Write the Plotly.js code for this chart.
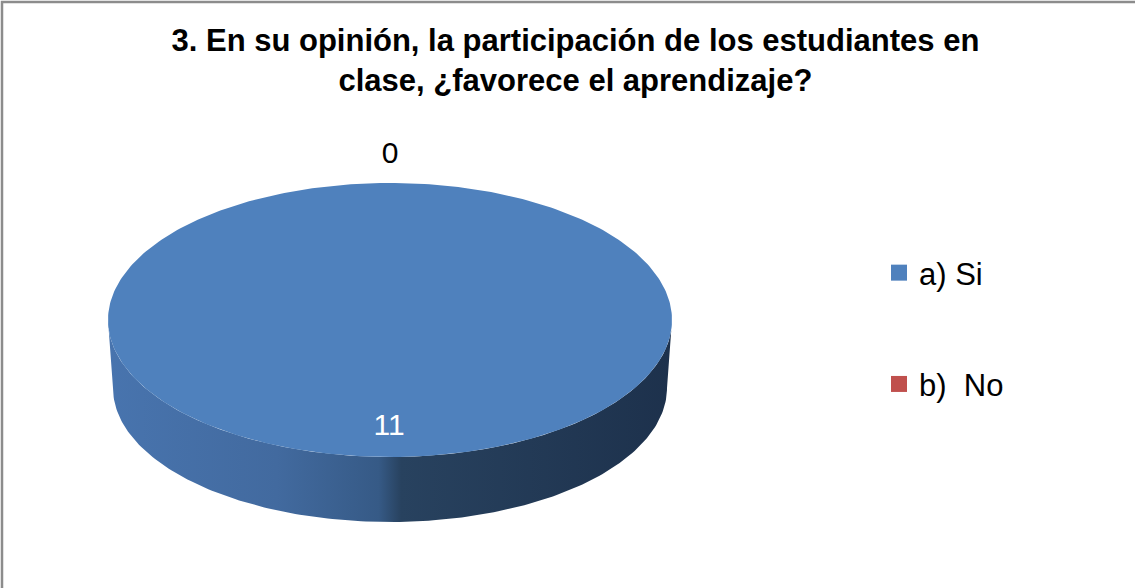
<!DOCTYPE html>
<html>
<head>
<meta charset="utf-8">
<script src="https://cdn.plot.ly/plotly-3.0.1.min.js"></script>
<style>
html,body{margin:0;padding:0;background:#fff;}
#chart{width:1135px;height:588px;}
</style>
</head>
<body>
<div id="chart"></div>
<script>
// ---- data ----
const categories = ['a) Si', 'b)  No'];
const values = [11, 0];
const sliceColors = ['#4f81bd', '#c0504d'];
const chartTitle = '3. En su opinión, la participación de los estudiantes en<br>clase, ¿favorece el aprendizaje?';

// ---- 3D pie geometry (pixel space) ----
const cx = 390, cy = 320, rx = 282, ry = 137;
const depth = 68, rxB = 277, ryB = 134;
const total = values.reduce((a, b) => a + b, 0);
const deg = Math.PI / 180;

function topPt(t) { return [cx + rx * Math.sin(t * deg), cy - ry * Math.cos(t * deg)]; }
function botPt(t) { return [cx + rxB * Math.sin(t * deg), cy + depth - ryB * Math.cos(t * deg)]; }

const traces = [];
let start = 0;
const labelX = [], labelY = [], labelText = [], labelColor = [];

values.forEach((v, i) => {
  const span = v / total * 360;
  const a0 = start, a1 = start + span;
  // side wall (visible front part: 90..270)
  const s = Math.max(a0, 90), e = Math.min(a1, 270);
  if (e > s) {
    const xs = [], ys = [];
    for (let t = s; t <= e + 1e-9; t += 1) { const p = topPt(t); xs.push(p[0]); ys.push(p[1]); }
    for (let t = e; t >= s - 1e-9; t -= 1) { const p = botPt(t); xs.push(p[0]); ys.push(p[1]); }
    traces.push({
      type: 'scatter', mode: 'lines', x: xs, y: ys, fill: 'toself',
      line: {width: 0}, hoverinfo: 'skip', showlegend: false,
      fillcolor: sliceColors[i],
      fillgradient: {
        type: 'horizontal',
        colorscale: i === 0
          ? [[0, '#4874ae'], [0.3, '#426a9f'], [0.48, '#365a86'], [0.52, '#28425f'], [1, '#1d314c']]
          : [[0, '#a33f3c'], [1, '#5e2120']]
      }
    });
  }
  // top face
  if (span > 0) {
    const xs = [cx], ys = [cy];
    for (let t = a0; t <= a1 + 1e-9; t += 1) { const p = topPt(t); xs.push(p[0]); ys.push(p[1]); }
    xs.push(cx); ys.push(cy);
    traces.push({
      type: 'scatter', mode: 'lines', x: xs, y: ys, fill: 'toself',
      line: {width: 0}, fillcolor: sliceColors[i], hoverinfo: 'skip', showlegend: false
    });
  }
  // labels
  const mid = (a0 + a1) / 2;
  if (span > 0) {
    labelX.push(cx + rx * 0.78 * Math.sin(mid * deg) - 1);
    labelY.push(cy - ry * 0.78 * Math.cos(mid * deg) + 1);
    labelColor.push('#ffffff');
  } else {
    labelX.push(cx + (rx + 28) * Math.sin(mid * deg));
    labelY.push(cy - (ry + 28) * Math.cos(mid * deg));
    labelColor.push('#000000');
  }
  labelText.push(String(v));
  start = a1;
});

traces.push({
  type: 'scatter', mode: 'text', x: labelX, y: labelY, text: labelText,
  textposition: 'middle center',
  textfont: {family: 'Liberation Sans, Arial, sans-serif', size: 30, color: labelColor},
  hoverinfo: 'skip', showlegend: false
});

// legend entries
categories.forEach((c, i) => {
  traces.push({
    type: 'scatter', mode: 'markers', x: [null], y: [null], name: c,
    legendgroup: 'g' + i,
    marker: {symbol: 'square', size: 16, color: sliceColors[i]}
  });
});

const layout = {
  width: 1135, height: 588,
  margin: {l: 0, r: 0, t: 0, b: 0},
  paper_bgcolor: '#ffffff', plot_bgcolor: '#ffffff',
  xaxis: {range: [0, 1135], visible: false, fixedrange: true},
  yaxis: {range: [588, 0], visible: false, fixedrange: true},
  title: {
    text: '<b>' + chartTitle + '</b>',
    x: 0.507, xanchor: 'center', y: 1 - 51 / 588, yanchor: 'top',
    font: {family: 'Liberation Sans, Arial, sans-serif', size: 31, color: '#000'}
  },
  showlegend: true,
  legend: {
    x: 879 / 1135, xanchor: 'left', y: 1 - 246 / 588, yanchor: 'top',
    tracegroupgap: 68, bgcolor: 'rgba(0,0,0,0)',
    font: {family: 'Liberation Sans, Arial, sans-serif', size: 31, color: '#000'}
  },
  shapes: [{
    type: 'rect', xref: 'x', yref: 'y', x0: 2, y0: 2, x1: 1150, y1: 600,
    line: {color: '#8c8c8c', width: 2.5}, fillcolor: 'rgba(0,0,0,0)'
  }]
};

Plotly.newPlot('chart', traces, layout, {displayModeBar: false, staticPlot: true});
</script>
</body>
</html>
